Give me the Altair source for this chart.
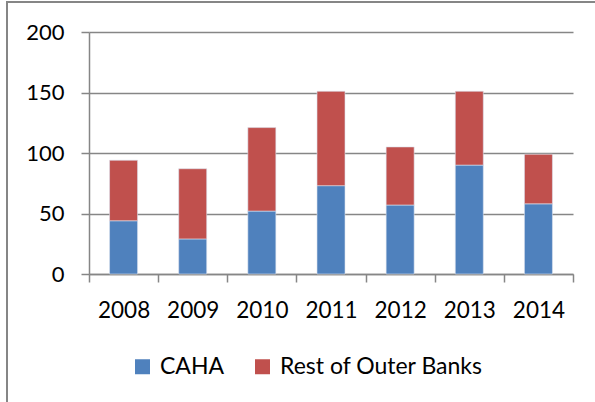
import altair as alt
import pandas as pd

years = ["2008", "2009", "2010", "2011", "2012", "2013", "2014"]
caha = [44, 29, 52, 73, 57, 90, 58]
rest = [50, 58, 69, 78, 48, 61, 41]
series = ["CAHA", "Rest of Outer Banks"]
colors = ["#4F81BD", "#C0504D"]
y_ticks = [0, 50, 100, 150, 200]

rows = []
for i, yr in enumerate(years):
    rows.append({"year": yr, "series": series[0], "value": caha[i], "ord": 0})
    rows.append({"year": yr, "series": series[1], "value": rest[i], "ord": 1})
df = pd.DataFrame(rows)

FONT = "Lato"
GRID = "#868686"

bars = alt.Chart(df).mark_bar(size=28, stroke="#dbe3ef", strokeWidth=0.6).encode(
    x=alt.X("year:N", sort=years,
            scale=alt.Scale(paddingInner=0, paddingOuter=0),
            axis=alt.Axis(title=None, labelAngle=0, tickBand="extent",
                          tickSize=8, tickColor=GRID, tickWidth=1.5,
                          domainColor=GRID, domainWidth=1.5,
                          labelPadding=17, labelFont=FONT, labelFontSize=22.5,
                          labelColor="black", grid=False)),
    y=alt.Y("value:Q", stack="zero",
            scale=alt.Scale(domain=[0, 200], nice=False),
            axis=alt.Axis(title=None, values=y_ticks, tickSize=8,
                          tickColor=GRID, tickWidth=1.5,
                          domainColor=GRID, domainWidth=1.5,
                          gridColor=GRID, gridWidth=1.5,
                          labelPadding=17, labelFont=FONT, labelFontSize=22,
                          labelColor="black")),
    color=alt.Color("series:N", sort=series,
                    scale=alt.Scale(domain=series, range=colors),
                    legend=alt.Legend(title=None, orient="none",
                                      direction="horizontal",
                                      legendX=42, legendY=323,
                                      symbolType="square", symbolSize=225,
                                      symbolStrokeWidth=0,
                                      labelFont=FONT, labelFontSize=23,
                                      labelColor="black", labelOffset=6,
                                      labelLimit=400,
                                      columnPadding=26)),
    order=alt.Order("ord:Q"),
)

frame_left = alt.Chart(df).mark_rule(color=GRID, strokeWidth=2).encode(
    x=alt.value(-82), y=alt.value(-30), y2=alt.value(380)
)
frame_top = alt.Chart(df).mark_rule(color=GRID, strokeWidth=1.5).encode(
    x=alt.value(-83), x2=alt.value(520), y=alt.value(-30)
)

chart = alt.layer(bars, frame_left, frame_top).properties(
    width=484, height=242,
    autosize=alt.AutoSizeParams(type="none"),
    padding={"left": 89, "top": 32, "right": 22, "bottom": 128},
    background="white",
).configure_view(stroke=None)

chart.save("out.html", embed_options={"renderer": "svg", "actions": False})
